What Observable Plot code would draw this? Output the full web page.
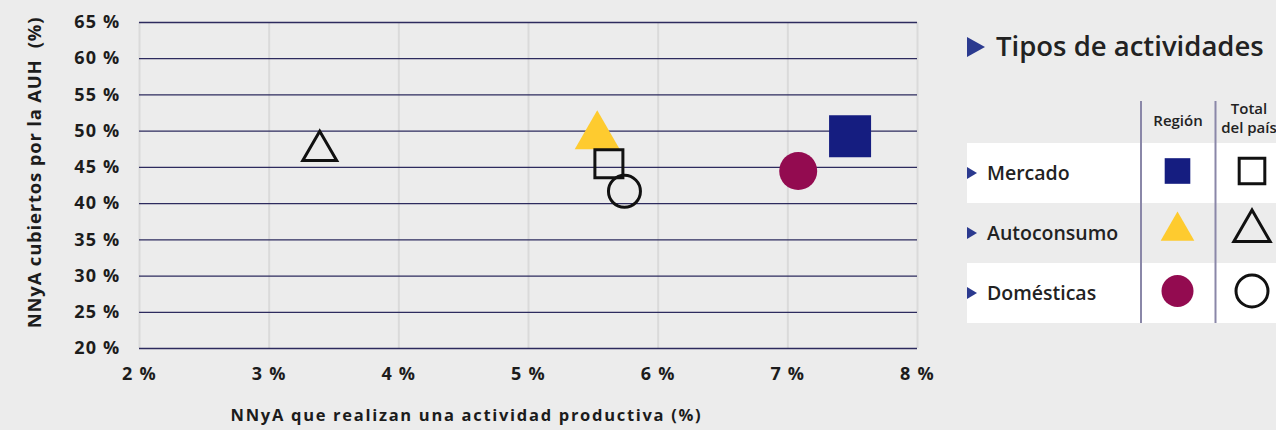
<!DOCTYPE html>
<html><head><meta charset="utf-8">
<script src="https://cdn.jsdelivr.net/npm/d3@7"></script>
<script src="https://cdn.jsdelivr.net/npm/@observablehq/plot@0.6"></script>
<style>
html,body{margin:0;padding:0;background:#ececec;}
#wrap{position:relative;width:1276px;height:430px;overflow:hidden;font-family:"Open Sans",sans-serif;}
#chart{position:absolute;left:0;top:0;}
#legend{position:absolute;left:0;top:0;}
.xt{letter-spacing:1.7px;}
.yt{letter-spacing:0.8px;}
.tk text{letter-spacing:1.2px;}
</style></head>
<body><div id="wrap"><div id="chart"></div><svg id="legend" width="1276" height="430"></svg></div>
<script>
// ---- data ----
const activities = ["Mercado", "Autoconsumo", "Domésticas"];
const regionX = [7.48, 5.53, 7.08];
const regionY = [49.3, 49.3, 44.5];
const totalX = [5.62, 3.39, 5.74];
const totalY = [45.5, 47.3, 41.7];
const regionColors = ["#151d80", "#fecb2f", "#930b50"];
const xTicks = [2, 3, 4, 5, 6, 7, 8];
const yTicks = [20, 25, 30, 35, 40, 45, 50, 55, 60, 65];
const xTitle = "NNyA que realizan una actividad productiva (%)";
const yTitle = "NNyA cubiertos por la AUH  (%)";
const legendTitle = "Tipos de actividades";
const colRegion = "Región";
const colTotal = ["Total", "del país"];

const symbols = [d3.symbolSquare, d3.symbolTriangle, d3.symbolCircle];
const regionR = [23.7, 16.7, 19];
const totalR = [15.8, 12.6, 16];

const region = activities.map((a, i) => ({a, x: regionX[i], y: regionY[i], r: regionR[i]}));
const total = activities.map((a, i) => ({a, x: totalX[i], y: totalY[i], r: totalR[i]}));

const font = "Open Sans";
const pct = d => d + " %";
const chart = Plot.plot({
  width: 960, height: 430,
  marginLeft: 139, marginRight: 43, marginTop: 22, marginBottom: 82,
  style: {background: "transparent", fontFamily: font, fontSize: "18px", fontWeight: 700, color: "#1c1c1c", overflow: "visible"},
  x: {domain: [2, 8], label: null},
  y: {domain: [20, 65], label: null},
  symbol: {domain: activities, range: symbols},
  r: {type: "identity"},
  color: {domain: activities, range: regionColors},
  marks: [
    Plot.ruleX(xTicks, {stroke: "#dadada", strokeWidth: 2}),
    Plot.ruleY(yTicks, {stroke: "#2d2b5e", strokeWidth: 1.3}),
    Plot.axisX({ticks: xTicks, tickFormat: pct, tickSize: 0, tickPadding: 19, label: null, className: "tk"}),
    Plot.axisY({ticks: yTicks, tickFormat: pct, tickSize: 0, tickPadding: 20, dx: 1, label: null, className: "tk"}),
    Plot.text([xTitle], {frameAnchor: "bottom", textAnchor: "middle", dx: -62, dy: 72, fontSize: 16.5, fontWeight: 700, fill: "#1c1c1c", className: "xt"}),
    Plot.text([yTitle], {frameAnchor: "left", textAnchor: "middle", rotate: -90, dx: -104, dy: -13, fontSize: 18.5, fontWeight: 700, fill: "#1c1c1c", className: "yt"}),
    Plot.dot(region, {x: "x", y: "y", symbol: "a", fill: "a", r: "r"}),
    Plot.dot(total, {x: "x", y: "y", symbol: "a", r: "r", fill: "none", stroke: "#111", strokeWidth: 3}),
  ]
});
document.getElementById("chart").appendChild(chart);

// ---- legend ----
const lg = d3.select("#legend").style("font-family", font);
lg.append("path").attr("d", "M967,37 L985,47 L967,57 Z").attr("fill", "#2b3a8f");
lg.append("text").attr("x", 996).attr("y", 56).attr("font-size", 27.5).attr("font-weight", 600).attr("fill", "#222").text(legendTitle);
const rowTop = [143, 203, 263];
const rowFill = ["#ffffff", "#ececec", "#ffffff"];
activities.forEach((a, i) => {
  lg.append("rect").attr("x", 967).attr("y", rowTop[i]).attr("width", 320).attr("height", 60).attr("fill", rowFill[i]);
  const cy = rowTop[i] + 30;
  lg.append("path").attr("d", `M967,${cy-6} L977,${cy} L967,${cy+6} Z`).attr("fill", "#2b3a8f");
  lg.append("text").attr("x", 987).attr("y", cy + 7).attr("font-size", 19.5).attr("font-weight", 600).attr("fill", "#222").text(a);
  lg.append("path").attr("transform", `translate(1177.5,${cy - 2})`).attr("d", d3.symbol(symbols[i], [15.5*15.5*Math.PI*0.87, 12.5*12.5*Math.PI*1.0, 16*16*Math.PI][i])()).attr("fill", regionColors[i]);
  lg.append("path").attr("transform", `translate(1252,${cy - 2})`).attr("d", d3.symbol(symbols[i], [15.5*15.5*Math.PI*0.87, 13.5*13.5*Math.PI, 16*16*Math.PI][i])()).attr("fill", "none").attr("stroke", "#111").attr("stroke-width", 3);
});
[1141, 1215.5].forEach(x => lg.append("line").attr("x1", x).attr("x2", x).attr("y1", 101).attr("y2", 323).attr("stroke", "#8a87a8").attr("stroke-width", 2));
lg.append("text").attr("x", 1178).attr("y", 126).attr("text-anchor", "middle").attr("font-size", 15).attr("font-weight", 600).attr("fill", "#222").text(colRegion);
colTotal.forEach((t, i) => lg.append("text").attr("x", 1249).attr("y", 114 + i * 19).attr("text-anchor", "middle").attr("font-size", 15).attr("font-weight", 600).attr("fill", "#222").text(t));
</script></body></html>
